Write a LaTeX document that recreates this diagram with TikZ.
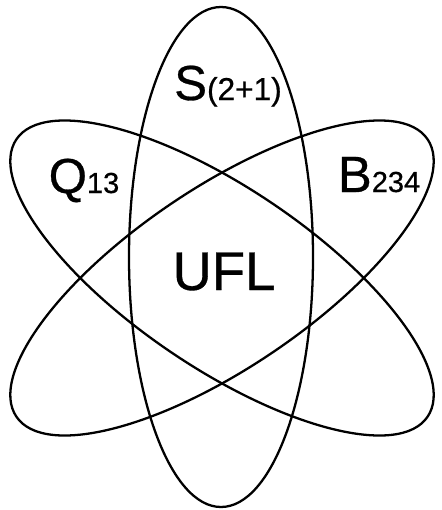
\documentclass[tikz,border=0pt]{standalone}
\usepackage{fontspec}
\setmainfont{Liberation Sans}
\newfontfamily\labfont{Liberation Sans}[FakeBold=0.6]
\usetikzlibrary{calc}
\newcommand{\orbitlab}[4]{{\fontsize{#1}{#1}\selectfont #2}{\fontsize{#3}{#3}\selectfont #4}}

\begin{document}
\begin{tikzpicture}[x=0.02cm, y=-0.02cm, orbit/.style={line width=1.3pt}, lab/.style={inner sep=0pt, anchor=base, font=\labfont}] %坐标按像素给，y轴向下
		\useasboundingbox (0,0) rectangle (442,510);
		\coordinate (O) at (221,257);
		\coordinate (P) at (222,278);
		\draw[orbit] (O) ellipse [x radius=92, y radius=250];
		\foreach \ang in {34,-34}
		\draw[orbit, rotate around={\ang:(P)}] (P) ellipse [x radius=248, y radius=90];
		\node[lab] (S) at (228,100) {\orbitlab{28}{S}{18}{(2+1)}};
		\node[lab] (Q) at (84,193) {\orbitlab{28}{Q}{16.5}{13}};
		\node[lab] (B) at (379,192) {\orbitlab{29}{B}{16.5}{234}};
		\node[lab] (U) at (224,290) {\fontsize{31}{31}\selectfont UFL};
	\end{tikzpicture}
\end{document}
